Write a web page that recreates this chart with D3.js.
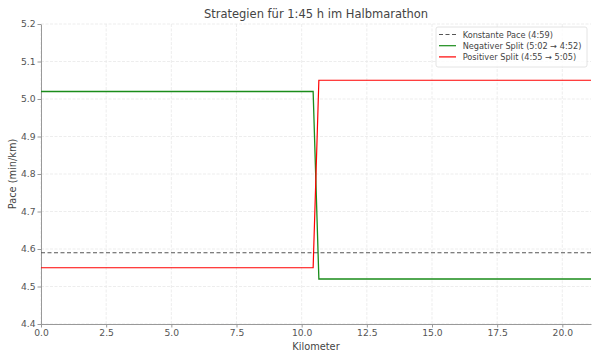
<!DOCTYPE html>
<html><head><meta charset="utf-8">
<script src="https://cdn.jsdelivr.net/npm/d3@7"></script>
<style>body{margin:0;background:#fff;} text{font-family:"DejaVu Sans",sans-serif;}</style>
</head><body><svg id="c" width="600" height="360"></svg>
<script>
const title = "Strategien für 1:45 h im Halbmarathon";
const xLabel = "Kilometer";
const yLabel = "Pace (min/km)";
const xTicks = [0, 2.5, 5, 7.5, 10, 12.5, 15, 17.5, 20];
const yTicks = [4.4, 4.5, 4.6, 4.7, 4.8, 4.9, 5.0, 5.1, 5.2];
const constKm = [0, 21.1];
const constPace = [4.59, 4.59];
const splitKm = [0, 10.44, 10.66, 21.1];
const negPace = [5.02, 5.02, 4.52, 4.52];
const posPace = [4.55, 4.55, 5.05, 5.05];
const seriesNames = ["Konstante Pace (4:59)", "Negativer Split (5:02 → 4:52)", "Positiver Split (4:55 → 5:05)"];

const svg = d3.select("#c");
const m = {l:41, r:9, t:24, b:36};
const W = 600, H = 360;
const x = d3.scaleLinear().domain([0, 21.1]).range([m.l, W - m.r]);
const y = d3.scaleLinear().domain([4.4, 5.2]).range([H - m.b, m.t]);

// grid
const g = svg.append("g");
g.selectAll(".gx").data(xTicks).join("line")
  .attr("x1", d => x(d)).attr("x2", d => x(d)).attr("y1", y(4.4)).attr("y2", y(5.2))
  .attr("stroke", "#e9e9e9").attr("stroke-width", 0.8).attr("stroke-dasharray", "3,1.5");
g.selectAll(".gy").data(yTicks).join("line")
  .attr("y1", d => y(d)).attr("y2", d => y(d)).attr("x1", x(0)).attr("x2", x(21.1))
  .attr("stroke", "#e9e9e9").attr("stroke-width", 0.8).attr("stroke-dasharray", "3,1.5");

// axes
const xa = svg.append("g").attr("transform", `translate(0,${y(4.4)})`)
  .call(d3.axisBottom(x).tickValues(xTicks).tickFormat(d3.format(".1f")).tickSize(3.5).tickPadding(2).tickSizeOuter(0));
const ya = svg.append("g").attr("transform", `translate(${x(0)},0)`)
  .call(d3.axisLeft(y).tickValues(yTicks).tickFormat(d3.format(".1f")).tickSize(3.5).tickPadding(2).tickSizeOuter(0));
[xa, ya].forEach(a => {
  a.select(".domain").attr("stroke", "#999").attr("stroke-width", 1);
  a.selectAll(".tick line").attr("stroke", "#999");
  a.selectAll(".tick text").attr("fill", "#555").attr("font-size", 9.2).attr("font-family", "DejaVu Sans");
});

const line = d3.line().x(d => x(d[0])).y(d => y(d[1]));
const plot = svg.append("g");
plot.append("path").datum(d3.zip(constKm, constPace)).attr("d", line)
  .attr("fill", "none").attr("stroke", "#555").attr("stroke-width", 1.2).attr("stroke-dasharray", "4,2.5");
plot.append("path").datum(d3.zip(splitKm, negPace)).attr("d", line)
  .attr("fill", "none").attr("stroke", "#1a8c1a").attr("stroke-width", 1.3);
plot.append("path").datum(d3.zip(splitKm, posPace)).attr("d", line)
  .attr("fill", "none").attr("stroke", "red").attr("stroke-width", 1.2);

// labels
svg.append("text").attr("x", (x(0) + x(21.1)) / 2).attr("y", 18).attr("text-anchor", "middle")
  .attr("font-size", 11.5).attr("fill", "#444").text(title);
svg.append("text").attr("x", (x(0) + x(21.1)) / 2).attr("y", 349.5).attr("text-anchor", "middle")
  .attr("font-size", 9.8).attr("fill", "#444").text(xLabel);
svg.append("text").attr("transform", `translate(15.5,${(y(4.4) + y(5.2)) / 2}) rotate(-90)`).attr("text-anchor", "middle")
  .attr("font-size", 9.8).attr("fill", "#444").text(yLabel);

// legend
const lg = svg.append("g").attr("transform", "translate(436,27)");
lg.append("rect").attr("x", 0).attr("y", 0).attr("width", 151).attr("height", 40).attr("rx", 2)
  .attr("fill", "#fff").attr("fill-opacity", 0.8).attr("stroke", "#ddd").attr("stroke-width", 0.8);
const styles = [{c:"#555", d:"4,2.5"}, {c:"#1a8c1a", d:null}, {c:"red", d:null}];
seriesNames.forEach((n, i) => {
  const yy = 7.5 + i * 11.2;
  lg.append("line").attr("x1", 3).attr("x2", 20).attr("y1", yy).attr("y2", yy)
    .attr("stroke", styles[i].c).attr("stroke-width", 1.2).attr("stroke-dasharray", styles[i].d);
  lg.append("text").attr("x", 26.7).attr("y", yy + 3).attr("font-size", 8.2).attr("fill", "#444").text(n);
});
</script></body></html>
